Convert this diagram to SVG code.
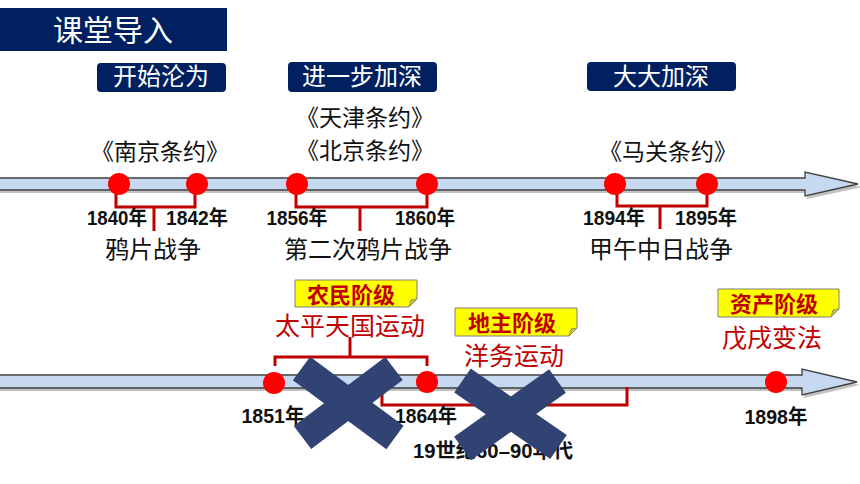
<svg xmlns="http://www.w3.org/2000/svg" width="860" height="484" viewBox="0 0 860 484">
<defs>
<style>
.hdr{fill:#002060}
.hdrt{fill:#ffffff;font-family:"Noto Sans CJK SC",sans-serif;text-anchor:middle}
.axis{fill:#c6d9f1;stroke:#404040;stroke-width:1.3}
.shadow{fill:#9a9a9a;opacity:0.6}
.dot{fill:#ff0000}
.br{fill:none;stroke:#c00000;stroke-width:3}
.yr{font-family:"Liberation Sans","Noto Sans CJK SC",sans-serif;font-weight:bold;font-size:20px;fill:#111;text-anchor:middle}
.ev{font-family:"Noto Sans CJK SC",sans-serif;font-size:24px;fill:#111;text-anchor:middle}
.tr{font-family:"Noto Sans CJK SC",sans-serif;font-size:23px;fill:#111;text-anchor:middle}
.red{font-family:"Noto Sans CJK SC",sans-serif;font-size:25px;fill:#c00000;text-anchor:middle}
.tag{fill:#ffff00;stroke:#7f7f7f;stroke-width:1}
.fold{fill:#cccc29;stroke:#7f7f7f;stroke-width:0.8}
.tagt{font-family:"Noto Sans CJK SC",sans-serif;font-size:22px;font-weight:bold;fill:#c00000;text-anchor:middle}
.x{stroke:#314372;stroke-width:29;stroke-linecap:butt}
</style>
</defs>

<g id="title">
<rect class="hdr" x="0" y="8" width="227" height="43"/>
<text class="hdrt" x="113" y="41" font-size="30">课堂导入</text>
</g>

<g id="stage1">
<rect class="hdr" x="97" y="63" width="129" height="29" rx="4"/>
<text class="hdrt" x="161" y="85" font-size="24">开始沦为</text>
</g>
<g id="stage2">
<rect class="hdr" x="288" y="62" width="149" height="30" rx="4"/>
<text class="hdrt" x="362" y="85" font-size="24">进一步加深</text>
</g>
<g id="stage3">
<rect class="hdr" x="587" y="62" width="149" height="29" rx="4"/>
<text class="hdrt" x="661" y="85" font-size="24">大大加深</text>
</g>

<g id="timeline-top">
<polygon class="shadow" points="0,181 807,181 807,175 862,187 807,199 807,193 0,193"/>
<polygon class="axis" points="-2,178 805,178 805,172 858,184 805,196 805,190 -2,190"/>
</g>
<g id="timeline-bottom">
<polygon class="shadow" points="0,378 804,378 804,372 860,385 804,398 804,391 0,391"/>
<polygon class="axis" points="-2,375 802,375 802,369 857,382 802,395 802,388 -2,388"/>
</g>

<g id="connectors">
<path class="br" d="M116,190 V207 H195 V190 M154,207 V231"/>
<path class="br" d="M296,190 V207 H427 V190 M360,207 V231"/>
<path class="br" d="M617,190 V206 H707 V190 M660,206 V229"/>
<path class="br" d="M275,366 V357 H427 V366 M350,357 V337"/>
<path class="br" d="M382,390 V405 H627 V387"/>
</g>

<g id="nanjing">
<circle class="dot" cx="119" cy="184" r="11"/>
<circle class="dot" cx="197" cy="184" r="11"/>
<text class="tr" x="160" y="160">《南京条约》</text>
<text class="yr" x="117" y="225" textLength="60" lengthAdjust="spacingAndGlyphs">1840年</text>
<text class="yr" x="197" y="225" textLength="62" lengthAdjust="spacingAndGlyphs">1842年</text>
<text class="ev" x="153" y="258">鸦片战争</text>
</g>

<g id="tianjin-beijing">
<circle class="dot" cx="297" cy="184" r="11"/>
<circle class="dot" cx="427" cy="184" r="11"/>
<text class="tr" x="365" y="126">《天津条约》</text>
<text class="tr" x="365" y="159">《北京条约》</text>
<text class="yr" x="297" y="225" textLength="61" lengthAdjust="spacingAndGlyphs">1856年</text>
<text class="yr" x="425" y="225" textLength="60" lengthAdjust="spacingAndGlyphs">1860年</text>
<text class="ev" x="368" y="258">第二次鸦片战争</text>
</g>

<g id="maguan">
<circle class="dot" cx="615" cy="184" r="11"/>
<circle class="dot" cx="707" cy="184" r="11"/>
<text class="tr" x="668" y="160">《马关条约》</text>
<text class="yr" x="614" y="225" textLength="62" lengthAdjust="spacingAndGlyphs">1894年</text>
<text class="yr" x="706" y="225" textLength="62" lengthAdjust="spacingAndGlyphs">1895年</text>
<text class="ev" x="661" y="258">甲午中日战争</text>
</g>

<g id="taiping">
<polygon class="tag" points="295,280 417,280 417,299 409,307 295,307"/>
<polygon class="fold" points="417,299 409,307 411,300"/>
<text class="tagt" x="351" y="303">农民阶级</text>
<text class="red" x="350" y="335">太平天国运动</text>
<circle class="dot" cx="274" cy="383" r="11"/>
<circle class="dot" cx="427" cy="382" r="11"/>
<text class="yr" x="273" y="423" textLength="63" lengthAdjust="spacingAndGlyphs">1851年</text>
<text class="yr" x="426" y="423" textLength="62" lengthAdjust="spacingAndGlyphs">1864年</text>
</g>

<g id="yangwu">
<polygon class="tag" points="455,308 577,308 577,328 569,336 455,336"/>
<polygon class="fold" points="577,328 569,336 571,329"/>
<text class="tagt" x="512" y="331">地主阶级</text>
<text class="red" x="514" y="365">洋务运动</text>
<text class="yr" x="493" y="458" textLength="160" lengthAdjust="spacingAndGlyphs">19世纪60–90年代</text>
</g>

<g id="wuxu">
<polygon class="tag" points="718,289 839,289 839,309 831,317 718,317"/>
<polygon class="fold" points="839,309 831,317 833,310"/>
<text class="tagt" x="774" y="312">资产阶级</text>
<text class="red" x="772" y="347">戊戌变法</text>
<circle class="dot" cx="776" cy="382" r="11"/>
<text class="yr" x="776" y="424" textLength="63" lengthAdjust="spacingAndGlyphs">1898年</text>
</g>

<g id="cross1">
<line class="x" x1="301.5" y1="368.5" x2="395" y2="437.5"/>
<line class="x" x1="394" y1="368.5" x2="302.5" y2="437.5"/>
</g>
<g id="cross2">
<line class="x" x1="462.5" y1="380.5" x2="558.5" y2="447"/>
<line class="x" x1="557.5" y1="381" x2="462.5" y2="448.5"/>
</g>
</svg>
